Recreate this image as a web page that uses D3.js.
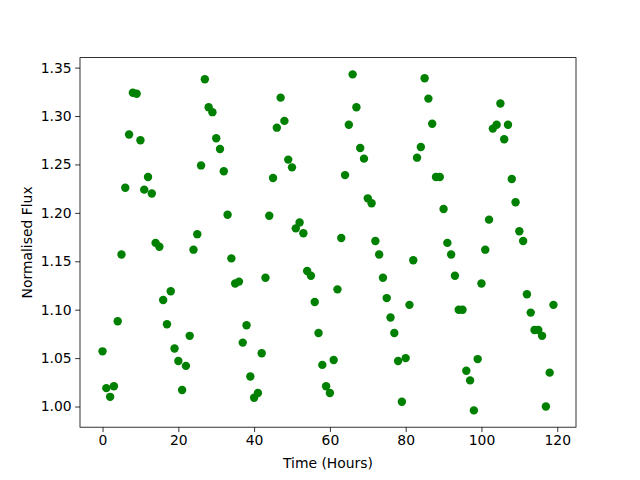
<!DOCTYPE html>
<html>
<head>
<meta charset="utf-8">
<script src="https://cdn.jsdelivr.net/npm/d3@7"></script>
<style>
  html, body { margin: 0; padding: 0; background: #fff; overflow: hidden; }
  svg { display: block; font-family: "DejaVu Sans", sans-serif; }
</style>
</head>
<body>
<svg></svg>
<script>
const hours = [
  0, 1, 2, 3, 4, 5, 6, 7, 8, 9, 10, 11, 12, 13, 14, 15, 16, 17, 18, 19,
  20, 21, 22, 23, 24, 25, 26, 27, 28, 29, 30, 31, 32, 33, 34, 35, 36, 37, 38, 39,
  40, 41, 42, 43, 44, 45, 46, 47, 48, 49, 50, 51, 52, 53, 54, 55, 56, 57, 58, 59,
  60, 61, 62, 63, 64, 65, 66, 67, 68, 69, 70, 71, 72, 73, 74, 75, 76, 77, 78, 79,
  80, 81, 82, 83, 84, 85, 86, 87, 88, 89, 90, 91, 92, 93, 94, 95, 96, 97, 98, 99,
  100, 101, 102, 103, 104, 105, 106, 107, 108, 109, 110, 111, 112, 113, 114, 115, 116, 117, 118, 119
];
const flux = [
  1.057, 1.019, 1.010, 1.021, 1.088, 1.157, 1.226, 1.281, 1.324, 1.323,
  1.275, 1.224, 1.237, 1.220, 1.169, 1.165, 1.110, 1.085, 1.119, 1.060,
  1.047, 1.017, 1.042, 1.073, 1.162, 1.178, 1.249, 1.338, 1.309, 1.304,
  1.277, 1.266, 1.243, 1.198, 1.153, 1.127, 1.129, 1.066, 1.084, 1.031,
  1.009, 1.014, 1.055, 1.133, 1.197, 1.236, 1.288, 1.319, 1.295, 1.255,
  1.247, 1.184, 1.190, 1.179, 1.140, 1.135, 1.108, 1.076, 1.043, 1.021,
  1.014, 1.048, 1.121, 1.174, 1.239, 1.291, 1.343, 1.309, 1.267, 1.256,
  1.215, 1.210, 1.171, 1.157, 1.133, 1.112, 1.092, 1.076, 1.047, 1.005,
  1.050, 1.105, 1.151, 1.257, 1.268, 1.339, 1.318, 1.292, 1.237, 1.237,
  1.204, 1.169, 1.157, 1.135, 1.100, 1.100, 1.037, 1.027, 0.996, 1.049,
  1.127, 1.162, 1.193, 1.287, 1.291, 1.313, 1.276, 1.291, 1.235, 1.211,
  1.181, 1.171, 1.116, 1.097, 1.079, 1.079, 1.073, 1.000, 1.035, 1.105
];
const xTicks = [0, 20, 40, 60, 80, 100, 120];
const yTicks = [1.00, 1.05, 1.10, 1.15, 1.20, 1.25, 1.30, 1.35];

const data = hours.map((h, i) => ({ t: h, f: flux[i] }));

const width = 640;
const height = 480;
const margin = { top: 57.6, left: 80, right: 64, bottom: 52.8 };
const innerWidth = width - margin.left - margin.right;
const innerHeight = height - margin.top - margin.bottom;

const svg = d3.select("svg").attr("width", width).attr("height", height);
const plot = svg
  .append("g")
  .attr("transform", `translate(${margin.left},${margin.top})`);

// matplotlib style 5% padding around the data range
function padded(ext) {
  const pad = (ext[1] - ext[0]) * 0.05;
  return [ext[0] - pad, ext[1] + pad];
}

const x = d3
  .scaleLinear()
  .domain(padded(d3.extent(hours)))
  .range([0, innerWidth]);
const y = d3
  .scaleLinear()
  .domain(padded(d3.extent(flux)))
  .range([innerHeight, 0]);

plot
  .selectAll("circle.pt")
  .data(data)
  .join("circle")
  .classed("pt", true)
  .attr("cx", d => x(d.t))
  .attr("cy", d => y(d.f))
  .attr("r", 4.2)
  .attr("fill", "#008000");

const tickLen = 4.86;
const xAxis = plot
  .append("g")
  .attr("transform", `translate(0,${innerHeight})`)
  .call(
    d3.axisBottom(x).tickValues(xTicks).tickSize(tickLen).tickPadding(3.5).tickFormat(d3.format("d"))
  );
const yAxis = plot
  .append("g")
  .call(
    d3.axisLeft(y).tickValues(yTicks).tickSize(tickLen).tickPadding(3.5).tickFormat(d3.format(".2f"))
  );

[xAxis, yAxis].forEach(a => {
  a.select(".domain").remove();
  a.selectAll(".tick line").attr("stroke", "#000").attr("stroke-width", 0.8);
  a.selectAll(".tick text")
    .attr("fill", "#000")
    .attr("font-size", "13.9px")
    .attr("font-family", "DejaVu Sans, sans-serif");
});

// frame
plot
  .append("rect")
  .attr("width", innerWidth)
  .attr("height", innerHeight)
  .attr("fill", "none")
  .attr("stroke", "#000")
  .attr("stroke-width", 0.8);

svg
  .append("text")
  .attr("x", margin.left + innerWidth / 2)
  .attr("y", 468)
  .attr("text-anchor", "middle")
  .attr("font-size", "13.9px")
  .text("Time (Hours)");

svg
  .append("text")
  .attr("transform", `translate(32,${margin.top + innerHeight / 2}) rotate(-90)`)
  .attr("text-anchor", "middle")
  .attr("font-size", "13.9px")
  .text("Normalised Flux");
</script>
</body>
</html>
